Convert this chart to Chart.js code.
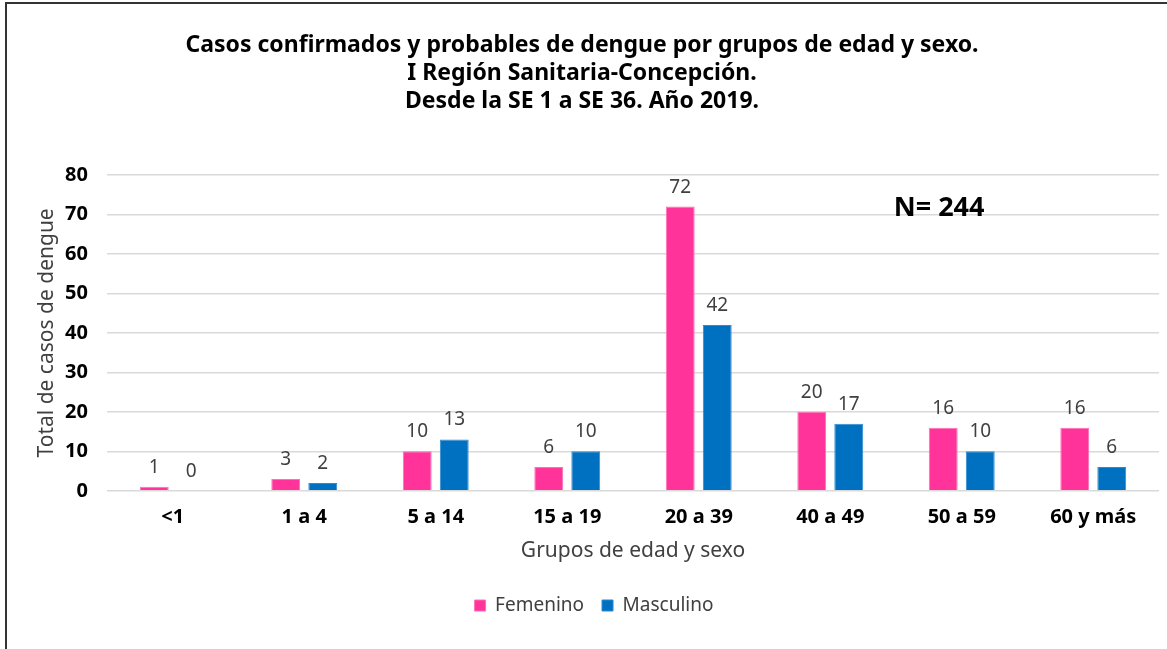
<!DOCTYPE html>
<html>
<head>
<meta charset="utf-8">
<script src="https://cdn.jsdelivr.net/npm/chart.js@4"></script>
<style>
  body { margin: 0; background: #fff; }
  #wrap { position: relative; width: 1167px; height: 649px; }
  #frame { position: absolute; left: 5px; top: 2px; right: 0; bottom: 0; border-left: 2px solid #333; border-top: 2px solid #333; pointer-events: none; }
</style>
</head>
<body>
<div id="wrap">
  <canvas id="dengueChart" width="1167" height="649"></canvas>
  <div id="frame"></div>
</div>
<script>
// data
const ageGroups = ['<1', '1 a 4', '5 a 14', '15 a 19', '20 a 39', '40 a 49', '50 a 59', '60 y más'];
const femenino = [1, 3, 10, 6, 72, 20, 16, 16];
const masculino = [0, 2, 13, 10, 42, 17, 10, 6];
const yTicks = [0, 10, 20, 30, 40, 50, 60, 70, 80];
const titleLines = [
  'Casos confirmados y probables de dengue por grupos de edad y sexo.',
  'I Región Sanitaria-Concepción.',
  'Desde la SE 1 a SE 36. Año 2019.',
];
const totalLabel = 'N= 244';

const fontFamily = "'Noto Sans', 'Open Sans', sans-serif";

// title drawn by hand: in the original it is centred on the whole frame, not the plot box
const frameTitle = {
  id: 'frameTitle',
  afterDraw(chart) {
    const ctx = chart.ctx;
    ctx.save();
    ctx.font = 'bold 23px ' + fontFamily;
    ctx.fillStyle = '#000';
    ctx.textAlign = 'center';
    ctx.textBaseline = 'middle';
    titleLines.forEach((line, i) => {
      ctx.fillText(line, 582, 45 + i * 28);
    });
    ctx.restore();
  },
};

// draws the value above each bar (no datalabels plugin offline)
const valueLabels = {
  id: 'valueLabels',
  afterDatasetsDraw(chart) {
    const ctx = chart.ctx;
    ctx.save();
    ctx.font = '19px ' + fontFamily;
    ctx.fillStyle = '#404040';
    ctx.textAlign = 'center';
    ctx.textBaseline = 'alphabetic';
    chart.data.datasets.forEach((ds, i) => {
      chart.getDatasetMeta(i).data.forEach((bar, j) => {
        ctx.fillText(String(ds.data[j]), bar.x, bar.y - 14);
      });
    });
    ctx.restore();
  },
};

// "N= 244" note inside the plot
const totalNote = {
  id: 'totalNote',
  afterDraw(chart) {
    const area = chart.chartArea;
    const ctx = chart.ctx;
    ctx.save();
    ctx.font = 'bold 27px ' + fontFamily;
    ctx.fillStyle = '#000';
    ctx.textAlign = 'center';
    ctx.textBaseline = 'middle';
    ctx.fillText(totalLabel, area.left + (area.right - area.left) * 0.791, area.top + 33);
    ctx.restore();
  },
};

const context = document.getElementById('dengueChart').getContext('2d');
new Chart(context, {
  type: 'bar',
  data: {
    labels: ageGroups,
    datasets: [
      {
        label: 'Femenino',
        data: femenino,
        backgroundColor: '#FF3399',
        borderColor: '#FF6FB5',
        borderWidth: 1,
      },
      {
        label: 'Masculino',
        data: masculino,
        backgroundColor: '#0070C0',
        borderColor: '#2E8AD0',
        borderWidth: 1,
      },
    ],
  },
  options: {
    responsive: false,
    animation: false,
    datasets: {
      bar: {
        categoryPercentage: 0.563,
        barPercentage: 0.78,
      },
    },
    layout: {
      padding: { left: 29, right: 8, top: 175, bottom: 24 },
    },
    plugins: {
      title: { display: false },
      legend: {
        position: 'bottom',
        labels: {
          color: '#404040',
          font: { family: fontFamily, size: 19 },
          boxWidth: 11,
          boxHeight: 11,
          padding: 18,
        },
      },
      tooltip: { enabled: false },
    },
    scales: {
      x: {
        grid: { display: false },
        border: { display: false },
        ticks: {
          color: '#000',
          font: { family: fontFamily, size: 20, weight: 'bold' },
          padding: 6,
        },
        title: {
          display: true,
          text: 'Grupos de edad y sexo',
          color: '#404040',
          font: { family: fontFamily, size: 21 },
          padding: { top: 4, bottom: 14 },
        },
      },
      y: {
        min: 0,
        max: 80,
        afterBuildTicks(scale) {
          scale.ticks = yTicks.map((v) => ({ value: v }));
        },
        afterFit(scale) {
          scale.width = 78;
        },
        grid: { color: '#D9D9D9', lineWidth: 1.5, drawTicks: false },
        border: { display: false },
        ticks: {
          color: '#000',
          font: { family: fontFamily, size: 20, weight: 'bold' },
          padding: 19,
        },
        title: {
          display: true,
          text: 'Total de casos de dengue',
          color: '#404040',
          font: { family: fontFamily, size: 21 },
          padding: 5,
        },
      },
    },
  },
  plugins: [frameTitle, valueLabels, totalNote],
});
</script>
</body>
</html>
